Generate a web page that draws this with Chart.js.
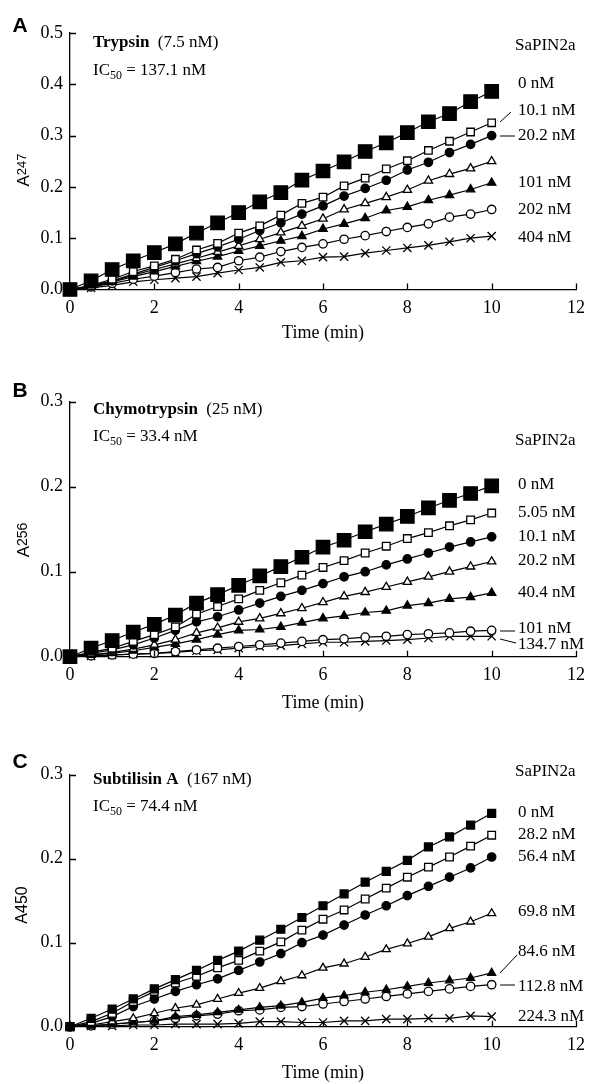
<!DOCTYPE html>
<html>
<head>
<meta charset="utf-8">
<script src="https://cdn.jsdelivr.net/npm/chart.js@4.4.1/dist/chart.umd.min.js"></script>
<style>
html, body { margin: 0; padding: 0; background: #fff; }
body { width: 593px; height: 1084px; position: relative; overflow: hidden; }
canvas { position: absolute; left: 0; }
</style>
</head>
<body>
<canvas id="chartA" width="593" height="345" style="top:0px"></canvas>
<canvas id="chartB" width="593" height="370" style="top:345px"></canvas>
<canvas id="chartC" width="593" height="369" style="top:715px"></canvas>
<script>
// time points (min)
const times = [0, 0.5, 1, 1.5, 2, 2.5, 3, 3.5, 4, 4.5, 5, 5.5, 6, 6.5, 7, 7.5, 8, 8.5, 9, 9.5, 10];
const xTicks = [0, 2, 4, 6, 8, 10, 12];

// A: trypsin, A247
const trypsin0 = [0, 0.017, 0.039, 0.056, 0.072, 0.089, 0.110, 0.130, 0.150, 0.171, 0.189, 0.213, 0.231, 0.249, 0.269, 0.286, 0.306, 0.327, 0.343, 0.366, 0.386];
const trypsin10 = [0, 0.008, 0.020, 0.035, 0.046, 0.059, 0.077, 0.090, 0.110, 0.124, 0.145, 0.168, 0.180, 0.202, 0.217, 0.235, 0.251, 0.271, 0.289, 0.307, 0.325];
const trypsin20 = [0, 0.007, 0.017, 0.030, 0.043, 0.056, 0.070, 0.083, 0.098, 0.115, 0.130, 0.147, 0.163, 0.182, 0.197, 0.213, 0.233, 0.248, 0.267, 0.283, 0.300];
const trypsin50 = [0, 0.006, 0.016, 0.028, 0.039, 0.050, 0.061, 0.073, 0.085, 0.098, 0.111, 0.124, 0.138, 0.156, 0.168, 0.180, 0.194, 0.212, 0.225, 0.236, 0.250];
const trypsin101 = [0, 0.005, 0.015, 0.025, 0.035, 0.045, 0.055, 0.064, 0.075, 0.085, 0.095, 0.104, 0.118, 0.128, 0.139, 0.154, 0.161, 0.174, 0.184, 0.195, 0.208];
const trypsin202 = [0, 0.005, 0.012, 0.020, 0.026, 0.033, 0.040, 0.043, 0.056, 0.063, 0.074, 0.082, 0.089, 0.098, 0.105, 0.113, 0.121, 0.128, 0.141, 0.147, 0.156];
const trypsin404 = [0, 0.003, 0.008, 0.015, 0.019, 0.022, 0.025, 0.032, 0.038, 0.043, 0.053, 0.056, 0.063, 0.064, 0.071, 0.076, 0.081, 0.086, 0.093, 0.100, 0.104];
const trypsinLabels = ['0 nM', '10.1 nM', '20.2 nM', '', '101 nM', '202 nM', '404 nM'];
const trypsinYTicks = [0, 0.1, 0.2, 0.3, 0.4, 0.5];

// B: chymotrypsin, A256
const chymo0 = [0, 0.010, 0.019, 0.029, 0.038, 0.049, 0.063, 0.073, 0.084, 0.095, 0.106, 0.117, 0.129, 0.137, 0.147, 0.156, 0.165, 0.175, 0.184, 0.192, 0.201];
const chymo5 = [0, 0.005, 0.010, 0.018, 0.026, 0.035, 0.050, 0.059, 0.068, 0.078, 0.087, 0.096, 0.105, 0.113, 0.122, 0.130, 0.139, 0.146, 0.154, 0.161, 0.169];
const chymo10 = [0, 0.004, 0.008, 0.014, 0.022, 0.031, 0.041, 0.047, 0.055, 0.063, 0.071, 0.078, 0.086, 0.094, 0.100, 0.108, 0.115, 0.122, 0.129, 0.135, 0.141];
const chymo20 = [0, 0.002, 0.005, 0.009, 0.014, 0.020, 0.028, 0.034, 0.041, 0.045, 0.051, 0.057, 0.064, 0.071, 0.076, 0.082, 0.088, 0.094, 0.100, 0.106, 0.112];
const chymo40 = [0, 0.002, 0.004, 0.007, 0.011, 0.015, 0.020, 0.026, 0.031, 0.032, 0.035, 0.040, 0.045, 0.048, 0.052, 0.054, 0.060, 0.063, 0.068, 0.070, 0.075];
const chymo101 = [0, 0.001, 0.002, 0.003, 0.004, 0.006, 0.008, 0.010, 0.012, 0.014, 0.016, 0.018, 0.020, 0.021, 0.023, 0.024, 0.026, 0.027, 0.028, 0.030, 0.031];
const chymo134 = [0, 0.001, 0.002, 0.003, 0.004, 0.005, 0.007, 0.008, 0.010, 0.012, 0.013, 0.015, 0.017, 0.017, 0.018, 0.019, 0.020, 0.022, 0.024, 0.024, 0.024];
const chymoLabels = ['0 nM', '5.05 nM', '10.1 nM', '20.2 nM', '40.4 nM', '101 nM', '134.7 nM'];
const chymoYTicks = [0, 0.1, 0.2, 0.3];

// C: subtilisin A, A450
const subt0 = [0, 0.010, 0.021, 0.033, 0.045, 0.056, 0.067, 0.079, 0.090, 0.103, 0.116, 0.130, 0.144, 0.158, 0.172, 0.185, 0.198, 0.214, 0.226, 0.240, 0.254];
const subt28 = [0, 0.006, 0.016, 0.030, 0.042, 0.052, 0.060, 0.070, 0.079, 0.090, 0.101, 0.115, 0.128, 0.139, 0.152, 0.165, 0.178, 0.190, 0.202, 0.215, 0.228];
const subt56 = [0, 0.004, 0.012, 0.024, 0.033, 0.042, 0.050, 0.057, 0.067, 0.077, 0.087, 0.100, 0.109, 0.121, 0.133, 0.144, 0.156, 0.167, 0.178, 0.189, 0.202];
const subt69 = [0, 0.002, 0.006, 0.010, 0.016, 0.022, 0.026, 0.033, 0.040, 0.046, 0.054, 0.061, 0.070, 0.075, 0.083, 0.092, 0.099, 0.107, 0.117, 0.125, 0.135];
const subt84 = [0, 0.001, 0.003, 0.005, 0.007, 0.012, 0.014, 0.017, 0.020, 0.023, 0.025, 0.029, 0.034, 0.037, 0.041, 0.044, 0.048, 0.052, 0.055, 0.058, 0.064];
const subt112 = [0, 0.001, 0.003, 0.005, 0.007, 0.010, 0.013, 0.015, 0.019, 0.020, 0.023, 0.024, 0.027, 0.030, 0.033, 0.036, 0.039, 0.042, 0.045, 0.048, 0.050];
const subt224 = [0, 0.001, 0.001, 0.002, 0.002, 0.003, 0.003, 0.003, 0.004, 0.006, 0.006, 0.005, 0.005, 0.007, 0.007, 0.009, 0.009, 0.010, 0.010, 0.013, 0.012];
const subtLabels = ['0 nM', '28.2 nM', '56.4 nM', '69.8 nM', '84.6 nM', '112.8 nM', '224.3 nM'];
const subtYTicks = [0, 0.1, 0.2, 0.3];

const SERIF = "'Liberation Serif', 'Times New Roman', serif";
const SANS = "'Liberation Sans', Arial, sans-serif";

// marker look for the 7 series: filled sq, open sq, filled circle, open tri, filled tri, open circle, x
const markers = [
    { style: 'rect', fill: '#000' },
    { style: 'rect', fill: '#fff' },
    { style: 'circle', fill: '#000' },
    { style: 'triangle', fill: '#fff' },
    { style: 'triangle', fill: '#000' },
    { style: 'circle', fill: '#fff' },
    { style: 'crossRot', fill: '#000' }
];

function toPoints(vals) {
    return vals.map((v, i) => ({ x: times[i], y: v }));
}

// draws inward ticks and all the annotation text
const panelText = {
    id: 'panelText',
    afterDraw(chart, args, o) {
        const ctx = chart.ctx;
        const xs = chart.scales.x, ys = chart.scales.y;
        ctx.save();
        ctx.strokeStyle = '#000';
        ctx.fillStyle = '#000';
        ctx.lineWidth = 1.3;
        ctx.beginPath();
        xs.ticks.forEach(t => {
            if (t.value === 0) return;
            const px = Math.round(xs.getPixelForValue(t.value)) + 0.5;
            ctx.moveTo(px, ys.bottom);
            ctx.lineTo(px, ys.bottom - 6);
        });
        ys.ticks.forEach(t => {
            if (t.value === 0) return;
            const py = Math.round(ys.getPixelForValue(t.value)) + 0.5;
            ctx.moveTo(xs.left, py);
            ctx.lineTo(xs.left + 6, py);
        });
        ctx.stroke();

        ctx.textBaseline = 'middle';
        ctx.textAlign = 'center';
        ctx.font = 'bold 21px ' + SANS;
        ctx.fillText(o.letter, 20, o.letterY);

        // enzyme title + IC50
        ctx.textAlign = 'left';
        ctx.font = 'bold 17px ' + SERIF;
        ctx.fillText(o.enzyme, 93, o.titleY);
        let w = ctx.measureText(o.enzyme).width;
        ctx.font = '17px ' + SERIF;
        ctx.fillText('  ' + o.conc, 93 + w, o.titleY);
        ctx.fillText('IC', 93, o.icY);
        w = ctx.measureText('IC').width;
        ctx.font = '12px ' + SERIF;
        ctx.fillText('50', 93 + w, o.icY + 5);
        const w2 = ctx.measureText('50').width;
        ctx.font = '17px ' + SERIF;
        ctx.fillText(' = ' + o.ic50, 93 + w + w2, o.icY);

        // y axis title, rotated
        ctx.save();
        ctx.translate(o.yLabelX, o.yLabelY);
        ctx.rotate(-Math.PI / 2);
        ctx.textAlign = 'left';
        ctx.font = o.yMainSize + 'px ' + SANS;
        const aw = ctx.measureText('A').width;
        ctx.font = o.ySubSize + 'px ' + SANS;
        const dw = ctx.measureText(o.ySub).width;
        const total = aw + dw;
        ctx.font = o.yMainSize + 'px ' + SANS;
        ctx.fillText('A', -total / 2, 0);
        ctx.font = o.ySubSize + 'px ' + SANS;
        ctx.fillText(o.ySub, -total / 2 + aw, o.ySubShift);
        ctx.restore();

        // x axis title
        ctx.textAlign = 'center';
        ctx.font = '18px ' + SERIF;
        ctx.fillText('Time (min)', (xs.left + xs.right) / 2, o.timeY);

        // series labels
        ctx.textAlign = 'left';
        ctx.font = '17px ' + SERIF;
        ctx.fillText('SaPIN2a', 515, o.headY);
        o.labels.forEach((lab, i) => {
            if (lab) ctx.fillText(lab, 518, o.labelY[i]);
        });
        ctx.lineWidth = 1;
        ctx.beginPath();
        o.leaders.forEach(l => {
            ctx.moveTo(l[0], l[1]);
            ctx.lineTo(l[2], l[3]);
        });
        ctx.stroke();
        ctx.restore();
    }
};

function makePanel(id, series, sizes, yMax, yTicks, topPad, xAxisH, text) {
    const datasets = series.map((vals, i) => ({
        data: toPoints(vals),
        borderColor: '#000',
        borderWidth: 1.2,
        tension: 0,
        clip: false,
        pointStyle: markers[i].style,
        pointRadius: sizes[i],
        pointBackgroundColor: markers[i].fill,
        pointBorderColor: '#000',
        pointBorderWidth: 1.3
    }));
    return new Chart(document.getElementById(id).getContext('2d'), {
        type: 'line',
        data: { datasets: datasets },
        options: {
            responsive: false,
            animation: false,
            layout: { padding: { left: 0, right: 17, top: topPad, bottom: 0 } },
            plugins: {
                legend: { display: false },
                tooltip: { enabled: false },
                panelText: text
            },
            scales: {
                x: {
                    type: 'linear',
                    min: 0,
                    max: 12,
                    afterBuildTicks: s => { s.ticks = xTicks.map(v => ({ value: v })); },
                    afterFit: s => { s.height = xAxisH; },
                    grid: { display: false, drawTicks: false },
                    border: { color: '#000', width: 1.3 },
                    ticks: { color: '#000', padding: 8, maxRotation: 0, font: { family: SERIF, size: 18 } }
                },
                y: {
                    type: 'linear',
                    min: 0,
                    max: yMax,
                    afterBuildTicks: s => { s.ticks = yTicks.map(v => ({ value: v })); },
                    afterFit: s => { s.width = 70; },
                    grid: { display: false, drawTicks: false },
                    border: { color: '#000', width: 1.3 },
                    ticks: { color: '#000', padding: 7, font: { family: SERIF, size: 18 }, callback: v => Number(v).toFixed(1) }
                }
            }
        },
        plugins: [panelText]
    });
}

makePanel('chartA',
    [trypsin0, trypsin10, trypsin20, trypsin50, trypsin101, trypsin202, trypsin404],
    [9.5, 5.3, 4.2, 4.8, 4.8, 4.2, 5.8], 0.5, trypsinYTicks, 33, 55.5,
    {
        letter: 'A', letterY: 26, enzyme: 'Trypsin', conc: '(7.5 nM)', ic50: '137.1 nM',
        titleY: 43, icY: 71, yLabelX: 24, yLabelY: 170, ySub: '247', yMainSize: 17, ySubSize: 13, ySubShift: -2,
        timeY: 333, headY: 46, labels: trypsinLabels,
        labelY: [84, 111, 136, 0, 183, 210, 238],
        leaders: [[500, 122, 511, 112], [500, 136, 515, 136]]
    });

makePanel('chartB',
    [chymo0, chymo5, chymo10, chymo20, chymo40, chymo101, chymo134],
    [9.5, 5.4, 4.2, 4.8, 4.8, 4.2, 5.8], 0.3, chymoYTicks, 56.7, 58.3,
    {
        letter: 'B', letterY: 46, enzyme: 'Chymotrypsin', conc: '(25 nM)', ic50: '33.4 nM',
        titleY: 65, icY: 92, yLabelX: 24, yLabelY: 195, ySub: '256', yMainSize: 17, ySubSize: 14, ySubShift: -1,
        timeY: 358, headY: 96, labels: chymoLabels,
        labelY: [140, 168, 192, 216, 248, 284, 300],
        leaders: [[500, 286, 515, 286], [500, 294, 516, 298]]
    });

makePanel('chartC',
    [subt0, subt28, subt56, subt69, subt84, subt112, subt224],
    [5.6, 5.4, 4.2, 4.6, 4.6, 4.2, 5.8], 0.3, subtYTicks, 59.7, 57.3,
    {
        letter: 'C', letterY: 47, enzyme: 'Subtilisin A', conc: '(167 nM)', ic50: '74.4 nM',
        titleY: 65, icY: 92, yLabelX: 23, yLabelY: 190, ySub: '450', yMainSize: 16, ySubSize: 16, ySubShift: 0,
        timeY: 358, headY: 57, labels: subtLabels,
        labelY: [98, 120, 142, 197, 237, 272, 302],
        leaders: [[500, 258, 517, 240], [500, 270, 515, 270]]
    });
</script>
</body>
</html>
